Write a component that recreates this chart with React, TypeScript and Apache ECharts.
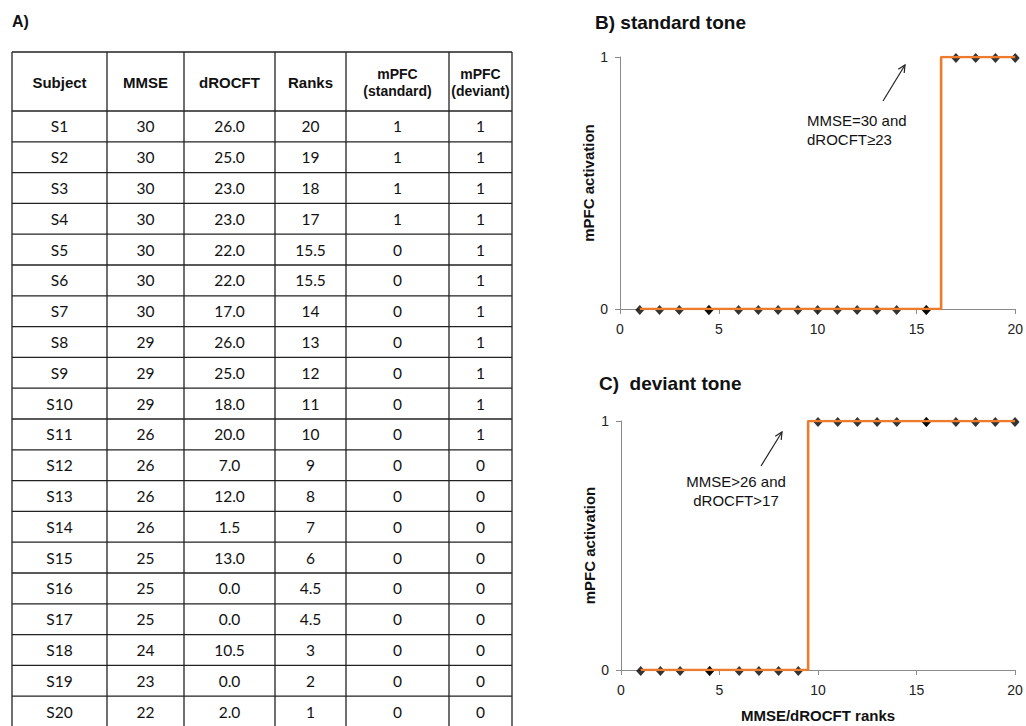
import React, { useEffect, useRef } from "react";
import * as echarts from "echarts";

// ---------- data ----------
const subjects = ["S1","S2","S3","S4","S5","S6","S7","S8","S9","S10","S11","S12","S13","S14","S15","S16","S17","S18","S19","S20"];
const mmse = [30,30,30,30,30,30,30,29,29,29,26,26,26,26,25,25,25,24,23,22];
const drocft = [26.0,25.0,23.0,23.0,22.0,22.0,17.0,26.0,25.0,18.0,20.0,7.0,12.0,1.5,13.0,0.0,0.0,10.5,0.0,2.0];
const ranks = [20,19,18,17,15.5,15.5,14,13,12,11,10,9,8,7,6,4.5,4.5,3,2,1];
const mpfcStandard = [1,1,1,1,0,0,0,0,0,0,0,0,0,0,0,0,0,0,0,0];
const mpfcDeviant = [1,1,1,1,1,1,1,1,1,1,1,0,0,0,0,0,0,0,0,0];
const headers = ["Subject","MMSE","dROCFT","Ranks","mPFC\n(standard)","mPFC\n(deviant)"];
const xTicks = [0, 5, 10, 15, 20];
const yTicks = [0, 1];

const ORANGE = "#EC7B2D";
const SANS = "Liberation Sans, Arial, sans-serif";
const BODY = "Lato, Open Sans, sans-serif";

function sortedPoints(vals: number[]) {
  return ranks.map((r, i) => [r, vals[i]]).sort((a, b) => a[0] - b[0]);
}

function buildTable(): any[] {
  const colX = [12, 107, 184, 275, 346, 449, 512];
  const top = 52;
  const headBottom = 111;
  const rowH = 30.8;
  const nRows = subjects.length;
  const bottom = headBottom + rowH * nRows;
  const els: any[] = [];
  const lineStyle = { stroke: "#222", lineWidth: 1.3 };
  const ys = [top, headBottom];
  for (let i = 1; i <= nRows; i++) ys.push(headBottom + rowH * i);
  ys.forEach((y) =>
    els.push({ type: "line", shape: { x1: colX[0], y1: y, x2: colX[colX.length - 1], y2: y }, style: lineStyle, silent: true })
  );
  colX.forEach((x) =>
    els.push({ type: "line", shape: { x1: x, y1: top, x2: x, y2: bottom }, style: lineStyle, silent: true })
  );
  headers.forEach((h, c) => {
    els.push({
      type: "text",
      x: (colX[c] + colX[c + 1]) / 2,
      y: (top + headBottom) / 2 + 1,
      style: { text: h, fill: "#111", font: `bold ${c >= 4 ? 14 : 15}px ${SANS}`, align: "center", verticalAlign: "middle", lineHeight: 17 },
      silent: true,
    });
  });
  const cols = [
    subjects,
    mmse.map(String),
    drocft.map((v) => v.toFixed(1)),
    ranks.map(String),
    mpfcStandard.map(String),
    mpfcDeviant.map(String),
  ];
  for (let r = 0; r < nRows; r++) {
    const cy = headBottom + rowH * r + rowH / 2;
    cols.forEach((col, c) => {
      els.push({
        type: "text",
        x: (colX[c] + colX[c + 1]) / 2,
        y: cy,
        style: { text: col[r], fill: "#111", font: `15.5px ${BODY}`, align: "center", verticalAlign: "middle" },
        silent: true,
      });
    });
  }
  return els;
}

function arrow(x1: number, y1: number, x2: number, y2: number): any[] {
  const ang = Math.atan2(y2 - y1, x2 - x1);
  const L = 8;
  const a1 = ang + Math.PI - 0.45;
  const a2 = ang + Math.PI + 0.45;
  const st = { stroke: "#222", lineWidth: 1.2, fill: "none" };
  return [
    { type: "line", shape: { x1, y1, x2, y2 }, style: st, silent: true },
    {
      type: "polyline",
      shape: { points: [[x2 + L * Math.cos(a1), y2 + L * Math.sin(a1)], [x2, y2], [x2 + L * Math.cos(a2), y2 + L * Math.sin(a2)]] },
      style: st,
      silent: true,
    },
  ];
}

function xAxisCfg(gridIndex: number, name: string) {
  return {
    type: "value",
    gridIndex,
    min: xTicks[0],
    max: xTicks[xTicks.length - 1],
    interval: xTicks[1] - xTicks[0],
    name,
    nameLocation: "middle",
    nameGap: 38,
    nameTextStyle: { color: "#111", fontFamily: SANS, fontWeight: "bold", fontSize: 15 },
    axisLine: { show: true, lineStyle: { color: "#8a8a8a", width: 1 } },
    axisTick: { show: true, length: 5, lineStyle: { color: "#8a8a8a" } },
    axisLabel: { color: "#222", fontFamily: SANS, fontSize: 14, margin: 13 },
    splitLine: { show: false },
  };
}

function yAxisCfg(gridIndex: number) {
  return {
    type: "value",
    gridIndex,
    min: yTicks[0],
    max: yTicks[yTicks.length - 1],
    interval: 1,
    name: "mPFC activation",
    nameLocation: "middle",
    nameGap: 20,
    nameRotate: 90,
    nameTextStyle: { color: "#111", fontFamily: SANS, fontWeight: "bold", fontSize: 15 },
    axisLine: { show: true, lineStyle: { color: "#8a8a8a", width: 1 } },
    axisTick: { show: true, length: 5, lineStyle: { color: "#8a8a8a" } },
    axisLabel: { color: "#222", fontFamily: SANS, fontSize: 14, margin: 12 },
    splitLine: { show: false },
  };
}

export default function App() {
  const ref = useRef<HTMLDivElement>(null);
  useEffect(() => {
    if (!ref.current) return;
    const chart = echarts.init(ref.current, undefined, { renderer: "svg" });
    const stdPts = sortedPoints(mpfcStandard);
    const devPts = sortedPoints(mpfcDeviant);
    const graphics: any[] = [
      ...buildTable(),
      { type: "text", x: 12, y: 21, style: { text: "A)", fill: "#111", font: `bold 16px ${SANS}`, verticalAlign: "middle" }, silent: true },
      { type: "text", x: 595, y: 22, style: { text: "B) standard tone", fill: "#111", font: `bold 19px ${SANS}`, verticalAlign: "middle" }, silent: true },
      { type: "text", x: 599, y: 383, style: { text: "C)  deviant tone", fill: "#111", font: `bold 19px ${SANS}`, verticalAlign: "middle" }, silent: true },
      { type: "text", x: 807, y: 130, style: { text: "MMSE=30 and\ndROCFT≥23", fill: "#111", font: `15px ${SANS}`, verticalAlign: "middle", lineHeight: 19 }, silent: true },
      { type: "text", x: 736, y: 491, style: { text: "MMSE>26 and\ndROCFT>17", fill: "#111", font: `15px ${SANS}`, align: "center", verticalAlign: "middle", lineHeight: 19 }, silent: true },
      ...arrow(883, 101, 905, 65),
      ...arrow(761, 466, 782, 432),
    ];
    chart.setOption({
      animation: false,
      backgroundColor: "#ffffff",
      grid: [
        { left: 620, top: 57, width: 398, height: 252 },
        { left: 621, top: 421, width: 394, height: 249 },
      ],
      xAxis: [xAxisCfg(0, ""), xAxisCfg(1, "MMSE/dROCFT ranks")],
      yAxis: [yAxisCfg(0), yAxisCfg(1)],
      series: [
        {
          type: "scatter", xAxisIndex: 0, yAxisIndex: 0, data: stdPts, symbol: "diamond", symbolSize: [9, 10],
          symbolOffset: [0, 1], itemStyle: { color: "#000" }, z: 2, silent: true,
        },
        {
          type: "line", xAxisIndex: 0, yAxisIndex: 0, data: stdPts, step: "middle", showSymbol: false,
          lineStyle: { color: ORANGE, width: 2.6 }, z: 3, silent: true,
        },
        {
          type: "scatter", xAxisIndex: 1, yAxisIndex: 1, data: devPts, symbol: "diamond", symbolSize: [9, 10],
          symbolOffset: [0, 1], itemStyle: { color: "#000" }, z: 2, silent: true,
        },
        {
          type: "line", xAxisIndex: 1, yAxisIndex: 1, data: devPts, step: "middle", showSymbol: false,
          lineStyle: { color: ORANGE, width: 2.6 }, z: 3, silent: true,
        },
      ],
      graphic: graphics,
    });
    return () => chart.dispose();
  }, []);
  return <div ref={ref} style={{ position: "absolute", left: 0, top: 0, width: 1026, height: 726 }} />;
}
